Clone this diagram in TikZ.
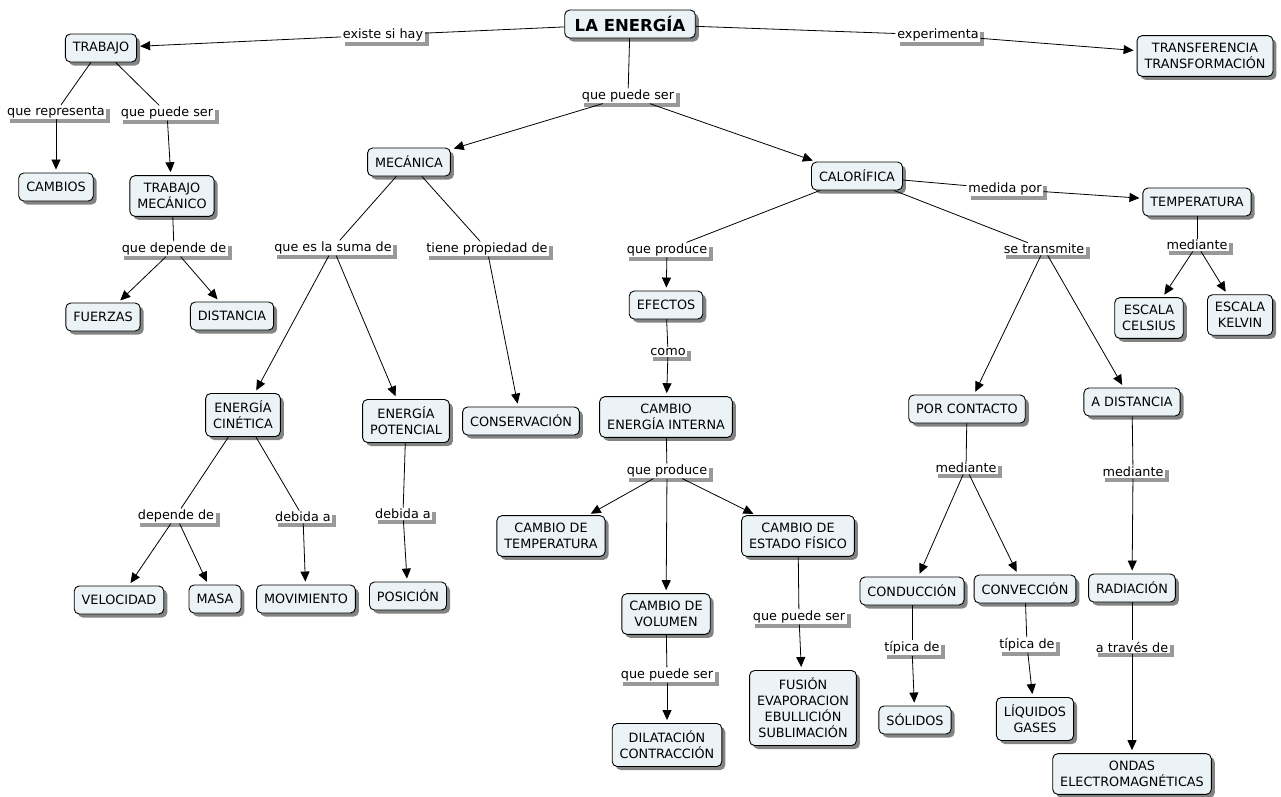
\documentclass[tikz,border=0pt]{standalone}
\usepackage{fontspec}
\setmainfont{DejaVu Sans}
\usepackage{tikz}
\usetikzlibrary{arrows.meta,shadows}
\definecolor{cfill}{RGB}{235,243,247}

\begin{document}
\begin{tikzpicture}[x=1pt, y=-1pt, >={Triangle[length=10pt,width=9pt]},
  font=\fontsize{12.8}{16}\selectfont, line width=0.8pt,
  cbox/.style={draw, rounded corners=5pt, line width=0.9pt, fill=cfill, align=center, inner xsep=7.5pt, inner ysep=7.5pt, minimum height=28pt,
    drop shadow={shadow xshift=3.5pt, shadow yshift=-3.5pt, fill=black!65, opacity=0.75}},
  phrase/.style={fill=white, inner xsep=1.5pt, inner ysep=1pt,
    drop shadow={shadow xshift=4pt, shadow yshift=-4pt, fill=black!40, opacity=1}},
  arr/.style={->, shorten >=3pt}]
  \useasboundingbox (0,0) rectangle (1281,796);
  \node[cbox, font=\fontsize{16.5}{18}\selectfont\bfseries, inner xsep=10pt, inner ysep=6pt](energia) at (630,24){LA ENERGÍA};
  \node[cbox](trabajo) at (101,48){TRABAJO};
  \node[cbox](transf) at (1205,56){TRANSFERENCIA\\TRANSFORMACIÓN};
  \node[cbox](cambios) at (56,187){CAMBIOS};
  \node[cbox](tmec) at (172,196){TRABAJO\\MECÁNICO};
  \node[cbox](fuerzas) at (103,317){FUERZAS};
  \node[cbox](distancia) at (232,316){DISTANCIA};
  \node[cbox](mecanica) at (409,162){MECÁNICA};
  \node[cbox](calorifica) at (857,176){CALORÍFICA};
  \node[cbox](temperatura) at (1197,202){TEMPERATURA};
  \node[cbox](celsius) at (1149,318){ESCALA\\CELSIUS};
  \node[cbox](kelvin) at (1240,315){ESCALA\\KELVIN};
  \node[cbox](cinetica) at (243,415){ENERGÍA\\CINÉTICA};
  \node[cbox](potencial) at (406,421){ENERGÍA\\POTENCIAL};
  \node[cbox](conserv) at (521,421){CONSERVACIÓN};
  \node[cbox](efectos) at (666,305){EFECTOS};
  \node[cbox](cei) at (666,417){CAMBIO\\ENERGÍA INTERNA};
  \node[cbox](contacto) at (967,409){POR CONTACTO};
  \node[cbox](adist) at (1132,402){A DISTANCIA};
  \node[cbox](velocidad) at (119,600){VELOCIDAD};
  \node[cbox](masa) at (215,599){MASA};
  \node[cbox](movim) at (306,599){MOVIMIENTO};
  \node[cbox](posicion) at (408,596){POSICIÓN};
  \node[cbox](ctemp) at (551,536){CAMBIO DE\\TEMPERATURA};
  \node[cbox](cestado) at (798,536){CAMBIO DE\\ESTADO FÍSICO};
  \node[cbox](cvol) at (666,614){CAMBIO DE\\VOLUMEN};
  \node[cbox](dilat) at (667,745){DILATACIÓN\\CONTRACCIÓN};
  \node[cbox](fusion) at (803,708){FUSIÓN\\EVAPORACION\\EBULLICIÓN\\SUBLIMACIÓN};
  \node[cbox](conduc) at (912,591){CONDUCCIÓN};
  \node[cbox](convec) at (1025,589){CONVECCIÓN};
  \node[cbox](radiac) at (1132,588){RADIACIÓN};
  \node[cbox](solidos) at (915,720){SÓLIDOS};
  \node[cbox](liquidos) at (1035,719){LÍQUIDOS\\GASES};
  \node[cbox](ondas) at (1132,774){ONDAS\\ELECTROMAGNÉTICAS};

  \node[phrase](existe) at (383,35){existe si hay};
  \node[phrase](experim) at (938,35){experimenta};
  \node[phrase](qps1) at (628,96){que puede ser};
  \node[phrase](querep) at (56,112){que representa};
  \node[phrase](qps2) at (167,113){que puede ser};
  \node[phrase](qdd) at (174,249){que depende de};
  \node[phrase](suma) at (333,248){que es la suma de};
  \node[phrase](tiene) at (487,249){tiene propiedad de};
  \node[phrase](qprod1) at (667,250){que produce};
  \node[phrase](medida) at (1005,189){medida por};
  \node[phrase](transm) at (1044,249){se transmite};
  \node[phrase](med1) at (1197,245){mediante};
  \node[phrase](como) at (668,352){como};
  \node[phrase](qprod2) at (667,471){que produce};
  \node[phrase](qps3) at (667,675){que puede ser};
  \node[phrase](qps4) at (799,617){que puede ser};
  \node[phrase](dep) at (176,516){depende de};
  \node[phrase](deb1) at (303,517){debida a};
  \node[phrase](deb2) at (403,514){debida a};
  \node[phrase](med2) at (966,468){mediante};
  \node[phrase](med3) at (1133,472){mediante};
  \node[phrase](tip1) at (912,648){típica de};
  \node[phrase](tip2) at (1027,645){típica de};
  \node[phrase](atraves) at (1132,647){a través de};

  \draw(energia)--(existe); \draw[arr](existe)--(trabajo);
  \draw(energia)--(experim); \draw[arr](experim)--(transf);
  \draw(energia)--(qps1); \draw[arr](qps1)--(mecanica); \draw[arr](qps1)--(calorifica);
  \draw(trabajo)--(querep); \draw[arr](querep)--(cambios);
  \draw(trabajo)--(qps2); \draw[arr](qps2)--(tmec);
  \draw(tmec)--(qdd); \draw[arr](qdd)--(fuerzas); \draw[arr](qdd)--(distancia);
  \draw(mecanica)--(suma); \draw[arr](suma)--(cinetica); \draw[arr](suma)--(potencial);
  \draw(mecanica)--(tiene); \draw[arr](tiene)--(conserv);
  \draw(cinetica)--(dep); \draw[arr](dep)--(velocidad); \draw[arr](dep)--(masa);
  \draw(cinetica)--(deb1); \draw[arr](deb1)--(movim);
  \draw(potencial)--(deb2); \draw[arr](deb2)--(posicion);
  \draw(calorifica)--(qprod1); \draw[arr](qprod1)--(efectos);
  \draw(efectos)--(como); \draw[arr](como)--(cei);
  \draw(cei)--(qprod2); \draw[arr](qprod2)--(ctemp); \draw[arr](qprod2)--(cvol); \draw[arr](qprod2)--(cestado);
  \draw(cvol)--(qps3); \draw[arr](qps3)--(dilat);
  \draw(cestado)--(qps4); \draw[arr](qps4)--(fusion);
  \draw(calorifica)--(medida); \draw[arr](medida)--(temperatura);
  \draw(temperatura)--(med1); \draw[arr](med1)--(celsius); \draw[arr](med1)--(kelvin);
  \draw(calorifica)--(transm); \draw[arr](transm)--(contacto); \draw[arr](transm)--(adist);
  \draw(contacto)--(med2); \draw[arr](med2)--(conduc); \draw[arr](med2)--(convec);
  \draw(adist)--(med3); \draw[arr](med3)--(radiac);
  \draw(conduc)--(tip1); \draw[arr](tip1)--(solidos);
  \draw(convec)--(tip2); \draw[arr](tip2)--(liquidos);
  \draw(radiac)--(atraves); \draw[arr](atraves)--(ondas);
\end{tikzpicture}
\end{document}
